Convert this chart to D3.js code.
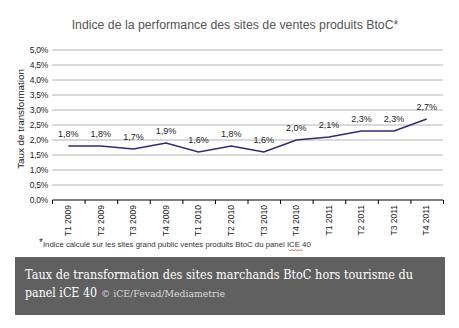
<!DOCTYPE html>
<html>
<head>
<meta charset="utf-8">
<script src="https://cdn.jsdelivr.net/npm/d3@7"></script>
<style>
  body { margin: 0; background: #fff; }
</style>
</head>
<body>
<div id="chart-area"></div>
<script>
// quarterly conversion rate, BtoC panel
var quarters = ["T1 2009", "T2 2009", "T3 2009", "T4 2009",
                "T1 2010", "T2 2010", "T3 2010", "T4 2010",
                "T1 2011", "T2 2011", "T3 2011", "T4 2011"];
var rates = [1.8, 1.8, 1.7, 1.9, 1.6, 1.8, 1.6, 2.0, 2.1, 2.3, 2.3, 2.7];
var yTicks = [0, 0.5, 1, 1.5, 2, 2.5, 3, 3.5, 4, 4.5, 5];

var svgWidth  = 459;
var svgHeight = 328;
var margin = { top: 50, left: 52, right: 16, bottom: 128 };
var width  = svgWidth - margin.left - margin.right;
var height = svgHeight - margin.top - margin.bottom;

var frFormat = (d) => d.toFixed(1).replace(".", ",") + "%";

var svg = d3.select("#chart-area")
            .append("svg")
            .attr("width", svgWidth)
            .attr("height", svgHeight);

svg.append("text")
   .attr("x", 235)
   .attr("y", 29)
   .attr("text-anchor", "middle")
   .attr("font-family", "Liberation Sans, Arial")
   .attr("font-size", "12.3px")
   .attr("fill", "#555")
   .text("Indice de la performance des sites de ventes  produits BtoC*");

var graphSpace = svg.append("g")
                    .attr("transform", "translate(" + margin.left + ", " + margin.top + ")");

var x = d3.scaleBand()
          .domain(quarters)
          .range([0, width]);

var y = d3.scaleLinear()
          .domain([0, 5])
          .range([height, 0]);

// horizontal gridlines
graphSpace.append("g")
          .selectAll("line")
          .data(yTicks.filter((d) => d > 0))
          .enter()
          .append("line")
          .attr("x1", 0)
          .attr("x2", width)
          .attr("y1", (d) => y(d))
          .attr("y2", (d) => y(d))
          .attr("stroke", "#b4b4b4")
          .attr("stroke-width", 1);

// y axis: labels only
var yAxisCall = d3.axisLeft(y)
                  .tickValues(yTicks)
                  .tickSize(0)
                  .tickPadding(4)
                  .tickFormat(frFormat);

var yAxis = graphSpace.append("g")
                      .attr("class", "y-axis")
                      .call(yAxisCall);
yAxis.select(".domain").remove();
yAxis.selectAll("text")
     .attr("font-family", "Liberation Sans, Arial")
     .attr("font-size", "8.5px")
     .attr("fill", "#222")
     .attr("letter-spacing", "-0.3px");

// x axis with tick marks between categories
var xAxisCall = d3.axisBottom(x).tickSize(0).tickPadding(0);
var xAxis = graphSpace.append("g")
                      .attr("class", "x-axis")
                      .attr("transform", "translate(0," + height + ")")
                      .call(xAxisCall);
xAxis.select(".domain")
     .attr("stroke", "#000")
     .attr("stroke-width", 1)
     .attr("d", "M0.5,0H" + width);
xAxis.selectAll("text")
     .attr("font-family", "Liberation Sans, Arial")
     .attr("font-size", "8.5px")
     .attr("fill", "#222")
     .attr("text-anchor", "end")
     .attr("dy", "0.32em")
     .attr("y", 0)
     .attr("x", -5)
     .attr("transform", "rotate(-90)");

xAxis.selectAll(".sep")
     .data(quarters.concat(["end"]))
     .enter()
     .append("line")
     .attr("class", "sep")
     .attr("x1", (d, i) => i * x.step() + 0.5)
     .attr("x2", (d, i) => i * x.step() + 0.5)
     .attr("y1", 0)
     .attr("y2", 4)
     .attr("stroke", "#000");

// y axis title
svg.append("text")
   .attr("transform", "translate(24, 119) rotate(-90)")
   .attr("text-anchor", "middle")
   .attr("font-family", "Liberation Sans, Arial")
   .attr("font-size", "9.8px")
   .attr("fill", "#222")
   .text("Taux de transformation");

// the series line
var line = d3.line()
             .x((d, i) => x(quarters[i]) + x.bandwidth() / 2)
             .y((d) => y(d));

graphSpace.append("path")
          .datum(rates)
          .attr("d", line)
          .attr("fill", "none")
          .attr("stroke", "#2e2a78")
          .attr("stroke-width", 1.4);

// value labels
graphSpace.selectAll(".val")
          .data(rates)
          .enter()
          .append("text")
          .attr("class", "val")
          .attr("x", (d, i) => x(quarters[i]) + x.bandwidth() / 2)
          .attr("y", (d) => y(d) - 9)
          .attr("text-anchor", "middle")
          .attr("font-family", "Liberation Sans, Arial")
          .attr("font-size", "9px")
          .attr("fill", "#222")
          .text(frFormat);

// footnote
var note = svg.append("text")
              .attr("x", 39)
              .attr("y", 247)
              .attr("font-family", "Liberation Sans, Arial")
              .attr("font-size", "7.8px")
              .attr("fill", "#333");
note.append("tspan")
    .attr("font-size", "10px")
    .attr("dy", "-1")
    .text("*");
note.append("tspan")
    .attr("dy", "1")
    .text("Indice calculé sur les sites grand public ventes  produits BtoC du panel ");
note.append("tspan").text("ICE");
note.append("tspan").text(" 40");

// spell-check squiggle under "ICE"
var noteNode = note.node();
var full = noteNode.textContent;
var startIdx = full.indexOf("ICE");
var sx = noteNode.getStartPositionOfChar(startIdx).x;
var ex = noteNode.getEndPositionOfChar(startIdx + 2).x;
var wave = "M" + sx + "," + 249.5;
for (var px = sx, k = 0; px < ex; px += 1.5, k++) {
    wave += "L" + (px + 1.5) + "," + (k % 2 === 0 ? 251 : 249.5);
}
svg.append("path")
   .attr("d", wave)
   .attr("fill", "none")
   .attr("stroke", "#e03030")
   .attr("stroke-width", 0.8);

// caption box
svg.append("rect")
   .attr("x", 15)
   .attr("y", 257)
   .attr("width", 430)
   .attr("height", 58)
   .attr("fill", "#606060");

svg.append("text")
   .attr("x", 25)
   .attr("y", 279)
   .attr("font-family", "DejaVu Serif, serif")
   .attr("font-size", "12.5px")
   .attr("fill", "#fff")
   .attr("textLength", 388)
   .attr("lengthAdjust", "spacingAndGlyphs")
   .text("Taux de transformation des sites marchands BtoC hors tourisme du");

var cap2 = svg.append("text")
              .attr("x", 25)
              .attr("y", 297)
              .attr("font-family", "DejaVu Serif, serif")
              .attr("font-size", "12.5px")
              .attr("fill", "#fff");
cap2.append("tspan")
    .attr("textLength", 72)
    .attr("lengthAdjust", "spacingAndGlyphs")
    .text("panel iCE 40");
cap2.append("tspan")
    .attr("dx", 4)
    .attr("font-size", "9.5px")
    .attr("fill", "#dcdcdc")
    .attr("textLength", 124)
    .attr("lengthAdjust", "spacingAndGlyphs")
    .text("© iCE/Fevad/Mediametrie");
</script>
</body>
</html>
